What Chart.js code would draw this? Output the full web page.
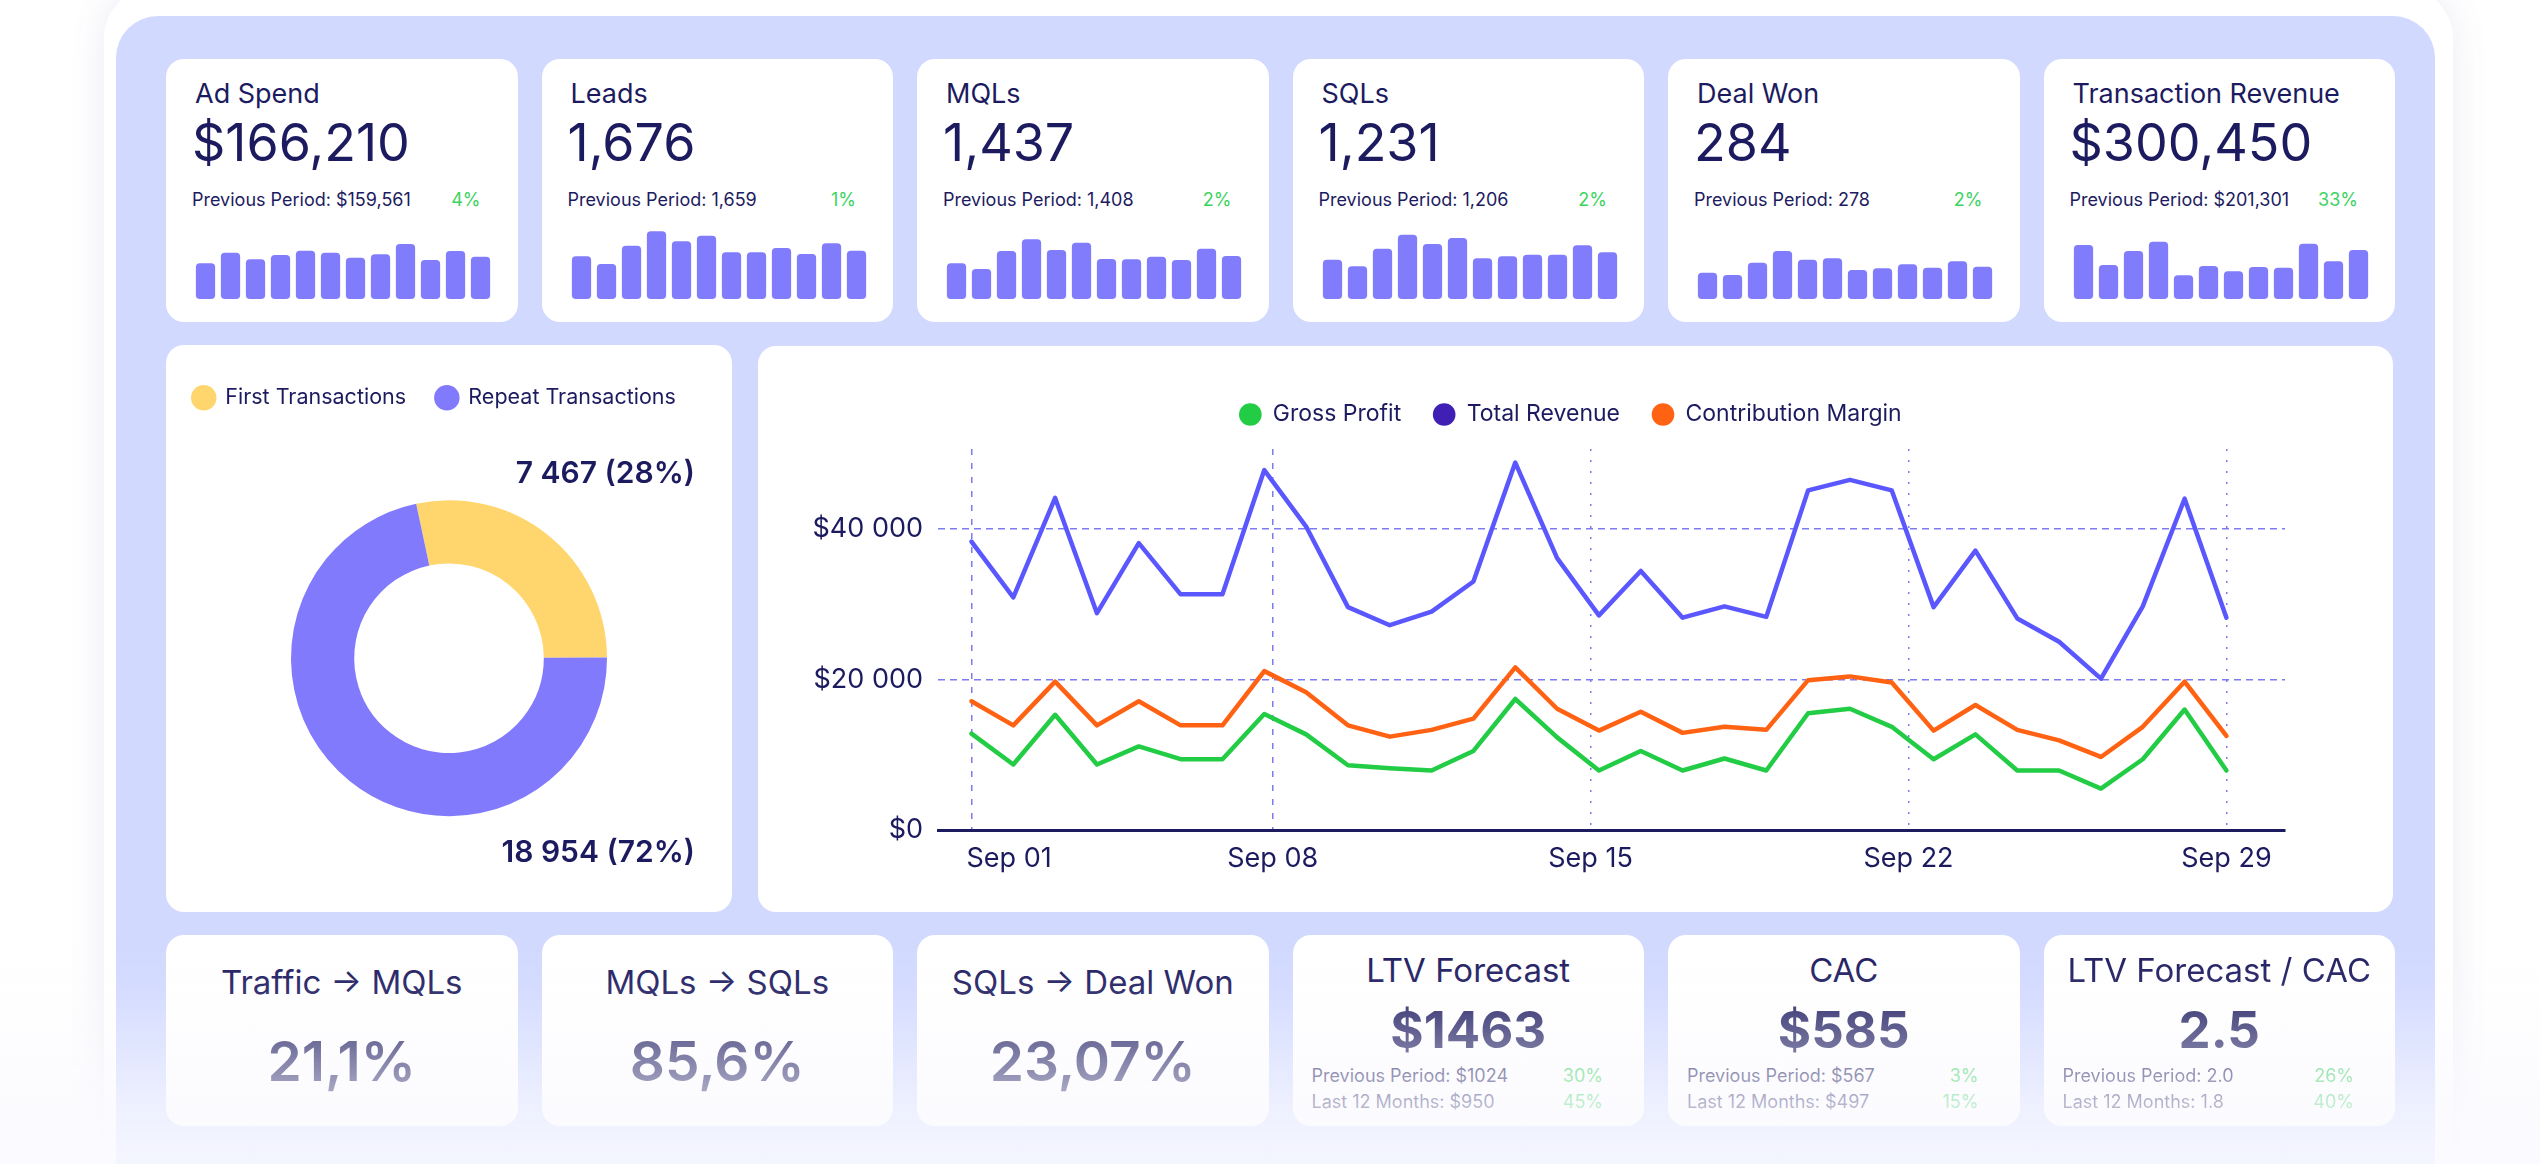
<!DOCTYPE html>
<html>
<head>
<meta charset="utf-8">
<script src="https://cdn.jsdelivr.net/npm/chart.js@4.4.1/dist/chart.umd.min.js"></script>
<style>
  body { margin: 0; width: 2540px; height: 1164px; background: #fff; font-family: Inter, sans-serif; color: #1d1b5f; overflow: hidden; position: relative; }
  .frame { position: absolute; left: 104px; top: -12px; width: 2349px; height: 1220px; background: #fff; border-radius: 50px; box-shadow: 0 0 36px rgba(100, 100, 170, 0.12); }
  .panel { position: absolute; left: 116px; top: 16px; width: 2319px; height: 1200px; background: #d1d9ff; border-radius: 42px; }
  .row { position: absolute; left: 166px; width: 2229px; display: flex; gap: 24px; }
  .card { position: relative; background: #fff; border-radius: 18px; flex: 1; }
  .abs { position: absolute; background: #fff; border-radius: 18px; }
  .t { position: absolute; line-height: 1; white-space: nowrap; }
  .up { color: #3dd35f; }
  .fade { position: absolute; left: 0; top: 900px; width: 2540px; height: 264px;
    background: linear-gradient(to bottom, rgba(250,250,255,0) 0%, rgba(250,250,255,0) 15%, rgba(250,250,255,0.1) 34%, rgba(250,250,255,0.47) 61%, rgba(250,250,255,0.7) 78%, rgba(250,250,255,0.86) 100%); }
</style>
</head>
<body>
<div class="frame"></div>
<div class="panel"></div>
<div class="row" id="kpiRow" style="top:59px;height:263px"></div>
<div class="abs" id="donutCard" style="left:166px;top:345px;width:566px;height:567px">
  <canvas id="donutChart" width="572" height="567" style="position:absolute;left:-3px;top:0"></canvas>
</div>
<div class="abs" style="left:758px;top:346px;width:1635px;height:566px">
  <canvas id="trendChart" width="1635" height="566"></canvas>
</div>
<div class="row" id="bottomRow" style="top:935px;height:191px"></div>
<div class="fade"></div>

<script>
const navy = '#1d1b5f';
const gridColor = '#7d7bf0';

// top KPI cards
const kpiTitles = ['Ad Spend', 'Leads', 'MQLs', 'SQLs', 'Deal Won', 'Transaction Revenue'];
const kpiValues = ['$166,210', '1,676', '1,437', '1,231', '284', '$300,450'];
const kpiPrevious = ['$159,561', '1,659', '1,408', '1,206', '278', '$201,301'];
const kpiChange = ['4%', '1%', '2%', '2%', '2%', '33%'];

const adSpendBars = [107, 139, 119, 132, 145, 139, 124, 134, 165, 117, 144, 127];
const leadsBars = [128, 105, 160, 203, 173, 190, 140, 140, 153, 135, 167, 145];
const mqlBars = [107, 90, 144, 179, 147, 169, 120, 119, 127, 117, 151, 129];
const sqlBars = [118, 98, 151, 193, 165, 183, 122, 128, 133, 133, 161, 140];
const dealWonBars = [79, 72, 109, 144, 118, 122, 87, 92, 104, 94, 113, 97];
const revenueBars = [162, 102, 144, 172, 71, 99, 83, 96, 94, 166, 113, 147];
const kpiBars = [adSpendBars, leadsBars, mqlBars, sqlBars, dealWonBars, revenueBars];

// transactions donut
const transactionLabels = ['First Transactions', 'Repeat Transactions'];
const transactionCounts = [7467, 18954];

// daily trend, Sep 01 .. end of month
const xTickValues = [0, 7.2, 14.8, 22.4, 30];
const xTickLabels = ['Sep 01', 'Sep 08', 'Sep 15', 'Sep 22', 'Sep 29'];
const yTickValues = [0, 20000, 40000];
const grossProfit = [12800, 8700, 15300, 8700, 11100, 9400, 9400, 15400, 12700, 8600, 8200, 7900, 10500, 17400, 12300, 7900,
  10500, 7900, 9500, 7900, 15500, 16100, 13700, 9400, 12700, 7900, 7900, 5500, 9400, 16000, 7900];
const totalRevenue = [38300, 30900, 44100, 28800, 38100, 31300, 31300, 47800, 40300, 29600, 27200, 29000, 33000, 48800, 36100, 28500,
  34400, 28200, 29700, 28300, 45100, 46500, 45100, 29600, 37100, 28100, 25000, 20100, 29700, 44000, 28200];
const contributionMargin = [17100, 13900, 19700, 13900, 17100, 13900, 13900, 21100, 18300, 13900, 12400, 13300, 14800, 21600, 16100, 13200,
  15700, 12900, 13700, 13300, 19900, 20400, 19600, 13200, 16600, 13300, 11900, 9700, 13700, 19700, 12500];

// bottom cards
const conversionTitles = ['Traffic → MQLs', 'MQLs → SQLs', 'SQLs → Deal Won'];
const conversionValues = ['21,1%', '85,6%', '23,07%'];
const unitTitles = ['LTV Forecast', 'CAC', 'LTV Forecast / CAC'];
const unitValues = ['$1463', '$585', '2.5'];
const unitPrevious = ['$1024', '$567', '2.0'];
const unitPreviousChange = ['30%', '3%', '26%'];
const unitLast12 = ['$950', '$497', '1.8'];
const unitLast12Change = ['45%', '15%', '40%'];

const spaced = v => String(v).replace(/\B(?=(\d{3})+(?!\d))/g, ' ');

function text(parent, str, css) {
    const el = document.createElement('div');
    el.className = 't';
    el.textContent = str;
    el.style.cssText = css;
    parent.appendChild(el);
    return el;
}

function buildCards() {
    const kpiRow = document.getElementById('kpiRow');
    kpiTitles.forEach((title, i) => {
        const card = document.createElement('div');
        card.className = 'card';
        text(card, title, 'left:29px;top:21px;font-size:27px');
        text(card, kpiValues[i], 'left:26px;top:58px;font-size:52px');
        text(card, 'Previous Period: ' + kpiPrevious[i], 'left:26px;top:132px;font-size:18px');
        text(card, kpiChange[i], 'right:37px;top:132px;font-size:18px').classList.add('up');
        const canvas = document.createElement('canvas');
        canvas.width = 300;
        canvas.height = 72;
        canvas.style.cssText = 'position:absolute;left:27px;top:168px';
        card.appendChild(canvas);
        kpiRow.appendChild(card);

        new Chart(canvas, {
            type: 'bar',
            data: {
                labels: kpiBars[i].map((_, k) => k),
                datasets: [{
                    data: kpiBars[i],
                    backgroundColor: '#807cfc',
                    borderRadius: 4,
                    borderSkipped: false,
                    barPercentage: 0.77,
                    categoryPercentage: 1
                }]
            },
            options: {
                responsive: false,
                animation: false,
                plugins: { legend: { display: false }, tooltip: { enabled: false } },
                scales: {
                    x: { display: false },
                    y: { display: false, min: 0, max: 216 }
                }
            }
        });
    });

    const bottomRow = document.getElementById('bottomRow');
    conversionTitles.forEach((title, i) => {
        const card = document.createElement('div');
        card.className = 'card';
        text(card, title, 'left:0;right:0;text-align:center;top:31px;font-size:33px');
        text(card, conversionValues[i], 'left:0;right:0;text-align:center;top:99px;font-size:55px;font-weight:600');
        bottomRow.appendChild(card);
    });
    unitTitles.forEach((title, i) => {
        const card = document.createElement('div');
        card.className = 'card';
        text(card, title, 'left:0;right:0;text-align:center;top:19px;font-size:33px');
        text(card, unitValues[i], 'left:0;right:0;text-align:center;top:69px;font-size:51px;font-weight:700');
        text(card, 'Previous Period: ' + unitPrevious[i], 'left:19px;top:132px;font-size:18px');
        text(card, unitPreviousChange[i], 'right:41px;top:132px;font-size:18px').classList.add('up');
        text(card, 'Last 12 Months: ' + unitLast12[i], 'left:19px;top:158px;font-size:18px');
        text(card, unitLast12Change[i], 'right:41px;top:158px;font-size:18px').classList.add('up');
        bottomRow.appendChild(card);
    });
}

function buildDonut() {
    const total = transactionCounts.reduce((a, b) => a + b, 0);
    const card = document.getElementById('donutCard');
    const label = i => spaced(transactionCounts[i]) + ' (' + Math.round(transactionCounts[i] / total * 100) + '%)';
    text(card, label(0), 'right:37px;top:112px;font-size:30px;font-weight:600');
    text(card, label(1), 'right:37px;top:491px;font-size:30px;font-weight:600');

    new Chart(document.getElementById('donutChart'), {
        type: 'doughnut',
        data: {
            labels: transactionLabels,
            datasets: [{
                data: transactionCounts,
                backgroundColor: ['#ffd66e', '#817afc'],
                borderWidth: 0
            }]
        },
        options: {
            responsive: false,
            animation: false,
            cutout: '60%',
            radius: 158,
            rotation: -12,
            layout: { padding: { top: 12, bottom: 14 } },
            plugins: {
                tooltip: { enabled: false },
                legend: {
                    align: 'start',
                    labels: {
                        usePointStyle: true,
                        pointStyle: 'circle',
                        boxWidth: 25,
                        boxHeight: 18,
                        padding: 30,
                        color: navy,
                        font: { size: 21.5 }
                    }
                }
            }
        }
    });
}

// leave a gap between the legend and the plot
const legendGap = {
    id: 'legendGap',
    beforeInit(chart) {
        const fit = chart.legend.fit;
        chart.legend.fit = function () {
            fit.call(this);
            this.height += 13;
        };
    }
};

// the first date label starts at its grid line instead of being centred on it
const firstTickStart = {
    id: 'firstTickStart',
    beforeDraw(chart) {
        const items = chart.scales.x.getLabelItems();
        if (items.length && items[0].options.textAlign !== 'left') {
            items[0].options.textAlign = 'left';
            items[0].options.translation[0] -= 5;
        }
    }
};

function buildTrend() {
    const points = arr => arr.map((v, i) => ({ x: i, y: v }));
    new Chart(document.getElementById('trendChart'), {
        type: 'line',
        data: {
            datasets: [
                { label: 'Gross Profit', data: points(grossProfit), borderColor: '#22cc44', backgroundColor: '#22cc44' },
                { label: 'Total Revenue', data: points(totalRevenue), borderColor: '#5b57ff', backgroundColor: '#3f1fb4' },
                { label: 'Contribution Margin', data: points(contributionMargin), borderColor: '#ff6212', backgroundColor: '#ff6212' }
            ]
        },
        options: {
            responsive: false,
            animation: false,
            layout: { padding: { top: 25, right: 10, left: 0, bottom: 0 } },
            elements: {
                line: { borderWidth: 4.5, tension: 0, borderJoinStyle: 'round', borderCapStyle: 'round' },
                point: { radius: 0, hoverRadius: 0, borderWidth: 0 }
            },
            plugins: {
                tooltip: { enabled: false },
                legend: {
                    labels: {
                        usePointStyle: true,
                        pointStyle: 'circle',
                        boxWidth: 22,
                        boxHeight: 16,
                        padding: 32,
                        color: navy,
                        font: { size: 23 }
                    }
                }
            },
            scales: {
                x: {
                    type: 'linear',
                    min: -0.8,
                    max: 31.4,
                    afterBuildTicks: scale => { scale.ticks = xTickValues.map(v => ({ value: v })); },
                    afterFit: scale => { scale.height = 82; },
                    ticks: {
                        autoSkip: false,
                        maxRotation: 0,
                        padding: 13,
                        color: navy,
                        font: { size: 27 },
                        callback: (v, i) => xTickLabels[i]
                    },
                    grid: { color: gridColor, lineWidth: 1.5, drawTicks: false },
                    border: { display: true, color: navy, width: 3, dash: ctx => (ctx.index < 2 ? [6, 8] : [2, 9]) }
                },
                y: {
                    min: 0,
                    max: 50600,
                    afterBuildTicks: scale => { scale.ticks = yTickValues.map(v => ({ value: v })); },
                    afterFit: scale => { scale.width = 180; },
                    ticks: {
                        padding: 15,
                        color: navy,
                        font: { size: 27 },
                        callback: v => '$' + spaced(v)
                    },
                    grid: {
                        color: ctx => (ctx.tick && ctx.tick.value === 0 ? 'rgba(0,0,0,0)' : gridColor),
                        lineWidth: 1.5,
                        drawTicks: false
                    },
                    border: { display: false, dash: [7, 5] }
                },
                // empty right gutter so the legend stays centred on the card
                gutter: {
                    position: 'right',
                    min: 0,
                    max: 1,
                    afterFit: scale => { scale.width = 98; },
                    ticks: { display: false },
                    grid: { display: false },
                    border: { display: false }
                }
            }
        },
        plugins: [legendGap, firstTickStart]
    });
}

document.addEventListener('DOMContentLoaded', () => {
    Chart.defaults.font.family = 'Inter';
    Promise.all([
        document.fonts.load('21px Inter'),
        document.fonts.load('600 30px Inter'),
        document.fonts.load('700 50px Inter')
    ]).catch(() => {}).then(() => {
        buildCards();
        buildDonut();
        buildTrend();
    });
});
</script>
</body>
</html>
